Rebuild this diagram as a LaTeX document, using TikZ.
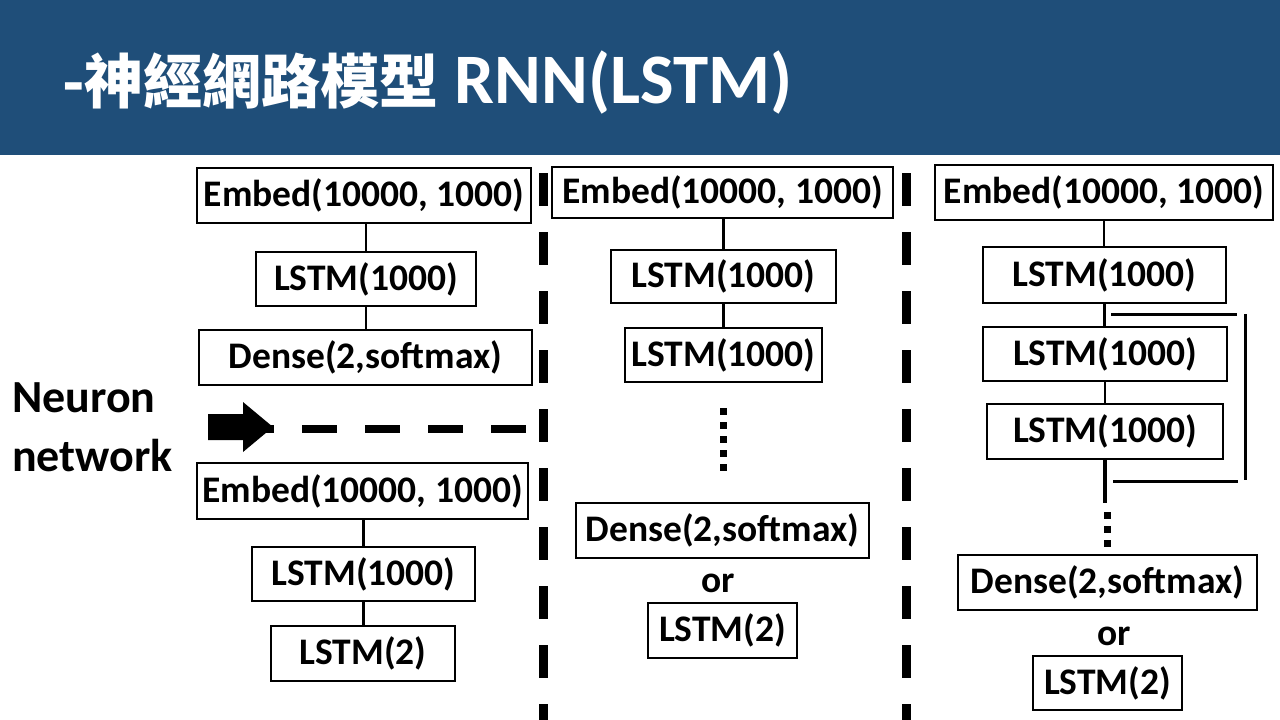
\documentclass[tikz,border=0pt]{standalone}
\usepackage{fontspec}
\setmainfont{Carlito}
\newfontfamily\cjk{Noto Sans CJK TC}
\definecolor{band}{RGB}{31,78,121}
\newcommand\boxtxt{\bfseries\fontsize{37.5}{42}\selectfont}
\begin{document}
\begin{tikzpicture}[x=1pt,y=-1pt,
  layer/.style={draw, line width=2pt, inner sep=0pt, font=\boxtxt},
  plaintxt/.style={inner sep=0pt, font=\boxtxt},
  sidetxt/.style={anchor=base west, inner sep=0pt, font=\bfseries\fontsize{46}{52}\selectfont},
  conn/.style={line width=2.5pt},
  thickconn/.style={line width=4pt},
  divider/.style={line width=9pt, dash pattern=on 33pt off 26pt},
  hdash/.style={line width=8pt, dash pattern=on 35pt off 28pt},
  dotline/.style={line width=7pt, dash pattern=on 6.5pt off 7.5pt},
  bracket/.style={line width=3pt},
]
\useasboundingbox (0,0) rectangle (1280,720);
\fill[white] (0,0) rectangle (1280,720);
% title band
\fill[band] (0,0) rectangle (1280,155);
\node[anchor=base west, inner sep=0pt, text=white] (title) at (62,103)
  {{\cjk\bfseries\fontsize{59}{61}\selectfont -神經網路模型}{\bfseries\fontsize{71}{72}\selectfont\ RNN(LSTM)}};

% left column, upper
\node[layer, minimum width=334pt, minimum height=55pt] (E1) at (364,195.5) {Embed(10000, 1000)};
\node[layer, minimum width=220pt, minimum height=54pt] (L1) at (366,279) {LSTM(1000)};
\node[layer, minimum width=333pt, minimum height=55pt] (D1) at (365.5,357.5) {Dense(2,softmax)};
\draw[conn] (L1.north) -- (L1.north |- E1.south);
\draw[conn] (L1.south) -- (L1.south |- D1.north);

% left column, lower
\node[layer, minimum width=331pt, minimum height=56pt] (E2) at (362.5,491) {Embed(10000, 1000)};
\node[layer, minimum width=223pt, minimum height=54pt] (L2) at (363.5,574) {LSTM(1000)};
\node[layer, minimum width=184pt, minimum height=55pt] (L3) at (363,653.5) {LSTM(2)};
\draw[conn] (L2.north) -- (L2.north |- E2.south);
\draw[conn] (L2.south) -- (L2.south |- L3.north);

% Neuron network label and arrow
\node[sidetxt] (nn1) at (12,412) {Neuron};
\node[sidetxt] (nn2) at (12,471) {network};
\coordinate (hs) at (239,429);
\coordinate (he) at (526,429);
\draw[hdash] (hs) -- (he);
\fill (208,414) -- (243,414) -- (243,402) -- (273,427) -- (243,452) -- (243,440) -- (208,440) -- cycle;

% dividers
\coordinate (d1t) at (543,173);
\coordinate (d1b) at (543,720);
\coordinate (d2t) at (906.5,173);
\coordinate (d2b) at (906.5,720);
\draw[divider] (d1t) -- (d1b);
\draw[divider] (d2t) -- (d2b);

% middle column
\node[layer, minimum width=341pt, minimum height=51pt] (ME) at (722.5,192.5) {Embed(10000, 1000)};
\node[layer, minimum width=225pt, minimum height=53pt] (ML1) at (723.5,276.5) {LSTM(1000)};
\node[layer, minimum width=197pt, minimum height=54pt] (ML2) at (723.5,355) {LSTM(1000)};
\node[layer, minimum width=293pt, minimum height=55pt] (MD) at (722.5,530.5) {Dense(2,softmax)};
\node[plaintxt] (Mor) at (718,583) {or};
\node[layer, minimum width=149pt, minimum height=55pt] (MLS) at (722.5,630.5) {LSTM(2)};
\draw[conn] (ML1.north) -- (ML1.north |- ME.south);
\draw[conn] (ML1.south) -- (ML1.south |- ML2.north);
\coordinate (mdt) at (723.5,408);
\coordinate (mdb) at (723.5,471);
\draw[dotline] (mdt) -- (mdb);

% right column
\node[layer, minimum width=338pt, minimum height=55pt] (RE) at (1104,192.5) {Embed(10000, 1000)};
\node[layer, minimum width=243pt, minimum height=56pt] (RL1) at (1104.5,275) {LSTM(1000)};
\node[layer, minimum width=244pt, minimum height=54pt] (RL2) at (1105,354) {LSTM(1000)};
\node[layer, minimum width=236pt, minimum height=55pt] (RL3) at (1105,431.5) {LSTM(1000)};
\node[layer, minimum width=299pt, minimum height=55pt] (RD) at (1107.5,582.5) {Dense(2,softmax)};
\node[plaintxt] (Ror) at (1114,636) {or};
\node[layer, minimum width=149pt, minimum height=54pt] (RLS) at (1107.5,683) {LSTM(2)};
\draw[conn] (RE.south) -- (RE.south |- RL1.north);
\draw[conn] (RL1.south) -- (RL1.south |- RL2.north);
\draw[conn] (RL2.south) -- (RL2.south |- RL3.north);
\coordinate (rend) at (1105,503);
\draw[thickconn] (RL3.south) -- (rend);
\coordinate (rdt) at (1107.5,512);
\draw[dotline] (rdt) -- (rdt |- RD.north);
% bracket
\coordinate (b1) at (1111,314);
\coordinate (b2) at (1237,314);
\coordinate (b3) at (1245,314);
\coordinate (b4) at (1245,480);
\coordinate (b5) at (1113,481);
\coordinate (b6) at (1238,481);
\draw[bracket] (b1) -- (b2);
\draw[bracket] (b3) -- (b4);
\draw[bracket] (b5) -- (b6);
\end{tikzpicture}
\end{document}
